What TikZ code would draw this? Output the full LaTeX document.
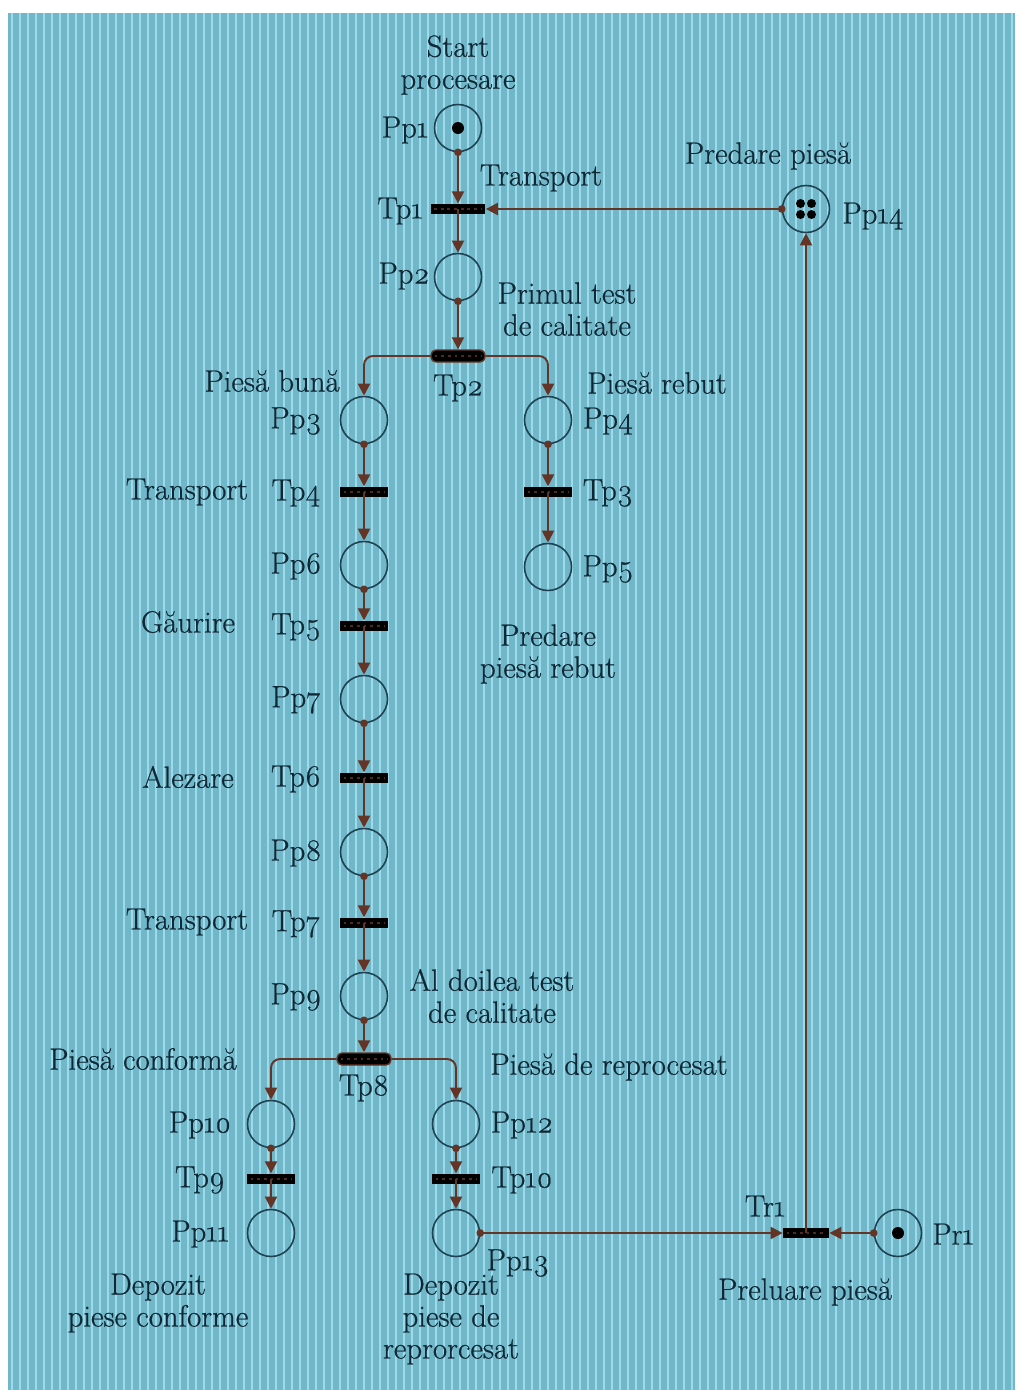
\documentclass[tikz,border=0pt]{standalone}
\usepackage{fontspec}
\setmainfont{Latin Modern Roman}[Numbers=OldStyle, FakeBold=0.6]
\usetikzlibrary{arrows.meta,calc}
\definecolor{bgc}{RGB}{112,184,201}
\definecolor{strc}{RGB}{158,218,232}
\definecolor{arcc}{RGB}{100,52,38}
\definecolor{txtc}{RGB}{16,40,54}
\definecolor{ringc}{RGB}{30,66,82}
\begin{document}
\begin{tikzpicture}[x=0.02cm,y=-0.02cm,
  place/.style={circle, draw=ringc, line width=0.9pt, minimum size=0.94cm, inner sep=0pt},
  trans/.style={rectangle, fill=black, minimum width=#1, minimum height=0.21cm, inner sep=0pt,
    path picture={\draw[arcc!80!black, line width=1.6pt, dash pattern=on 1.6pt off 2.2pt]
      ([xshift=2pt]path picture bounding box.west) -- ([xshift=-2pt]path picture bounding box.east);}},
  trans/.default=0.96cm,
  rtrans/.style={trans=#1, rounded corners=2.8pt, draw=arcc, line width=0.8pt, minimum height=0.24cm},
  pnarc/.style={draw=arcc, line width=1.1pt, rounded corners=0.18cm,
    {Circle[length=1.5mm,width=1.5mm]}-{Triangle[length=2.4mm,width=2.4mm]}, shorten <=-0.75mm},
  plarc/.style={draw=arcc, line width=1.1pt, rounded corners=0.18cm, -{Triangle[length=2.4mm,width=2.4mm]}},
  lbl/.style={text=txtc, font=\fontsize{17.5}{18.2}\selectfont, align=center, inner sep=0pt},
  tok/.style={fill=black}
]
\useasboundingbox (0,0) rectangle (1015,1390);
\fill[white] (0,0) rectangle (1015,1390);
\fill[bgc] (8,13) rectangle (1015,1390);
\foreach \i in {0,...,125} {
  \draw[strc, line width=0.7pt] (12+8*\i,13) -- (12+8*\i,1390);
}

% places
\node[place] (Pp1) at (458,128) {};
\node[place] (Pp2) at (458,277) {};
\node[place] (Pp3) at (364,420) {};
\node[place] (Pp4) at (548,420) {};
\node[place] (Pp5) at (548,567) {};
\node[place] (Pp6) at (364,565) {};
\node[place] (Pp7) at (364,699) {};
\node[place] (Pp8) at (364,852) {};
\node[place] (Pp9) at (364,996) {};
\node[place] (Pp10) at (271,1124) {};
\node[place] (Pp11) at (271,1233) {};
\node[place] (Pp12) at (456,1124) {};
\node[place] (Pp13) at (456,1233) {};
\node[place] (Pp14) at (806,209) {};
\node[place] (Pr1) at (898,1233) {};

% tokens
\fill[tok] (Pp1) circle (0.12cm);
\fill[tok] (Pr1) circle (0.12cm);
\foreach \dx/\dy in {-5.5/-5.5,5.5/-5.5,-5.5/5.5,5.5/5.5}
  \fill[tok] ($(Pp14)+(\dx,\dy)$) circle (0.09cm);

% transitions
\node[trans=1.1cm] (Tp1) at (458,209) {};
\node[rtrans=1.08cm] (Tp2) at (458,356) {};
\node[trans] (Tp3) at (548,492) {};
\node[trans] (Tp4) at (364,492) {};
\node[trans] (Tp5) at (364,626) {};
\node[trans] (Tp6) at (364,778) {};
\node[trans] (Tp7) at (364,923) {};
\node[rtrans=1.08cm] (Tp8) at (364,1059) {};
\node[trans] (Tp9) at (271,1179) {};
\node[trans] (Tp10) at (456,1179) {};
\node[trans=0.92cm] (Tr1) at (806,1233) {};

% arcs
\draw[pnarc] (Pp1.south) -- (Tp1.north);
\draw[plarc] (Tp1.center) -- (Pp2.north);
\draw[pnarc] (Pp14.west) -- (Tp1.east);
\draw[pnarc] (Pp2.south) -- (Tp2.north);
\draw[plarc] (Tp2.west) -| (Pp3.north);
\draw[plarc] (Tp2.east) -| (Pp4.north);
\draw[pnarc] (Pp3.south) -- (Tp4.north);
\draw[plarc] (Tp4.center) -- (Pp6.north);
\draw[pnarc] (Pp4.south) -- (Tp3.north);
\draw[plarc] (Tp3.center) -- (Pp5.north);
\draw[pnarc] (Pp6.south) -- (Tp5.north);
\draw[plarc] (Tp5.center) -- (Pp7.north);
\draw[pnarc] (Pp7.south) -- (Tp6.north);
\draw[plarc] (Tp6.center) -- (Pp8.north);
\draw[pnarc] (Pp8.south) -- (Tp7.north);
\draw[plarc] (Tp7.center) -- (Pp9.north);
\draw[pnarc] (Pp9.south) -- (Tp8.north);
\draw[plarc] (Tp8.west) -| (Pp10.north);
\draw[plarc] (Tp8.east) -| (Pp12.north);
\draw[pnarc] (Pp10.south) -- (Tp9.north);
\draw[plarc] (Tp9.center) -- (Pp11.north);
\draw[pnarc] (Pp12.south) -- (Tp10.north);
\draw[plarc] (Tp10.center) -- (Pp13.north);
\draw[pnarc] (Pp13.east) -- (Tr1.west);
\draw[pnarc] (Pr1.west) -- (Tr1.east);
\draw[plarc] (Tr1.center) -- (Pp14.south);

% labels
\node[lbl] (lStart) at (458,65) {Start\\procesare};
\node[lbl] (lPp1) at (405,130) {Pp1};
\node[lbl] (lTransp1) at (541,178) {Transport};
\node[lbl] (lTp1) at (400,211) {Tp1};
\node[lbl] (lPred) at (768,156) {Predare piesă};
\node[lbl] (lPp14) at (873,216) {Pp14};
\node[lbl] (lPp2) at (404,276) {Pp2};
\node[lbl] (lPrimul) at (567,309) {Primul test\\de calitate};
\node[lbl] (lBuna) at (272,381) {Piesă bună};
\node[lbl] (lTp2) at (458,388) {Tp2};
\node[lbl] (lRebut) at (657,383) {Piesă rebut};
\node[lbl] (lPp3) at (296,421) {Pp3};
\node[lbl] (lPp4) at (608,421) {Pp4};
\node[lbl] (lTransp4) at (187,492) {Transport};
\node[lbl] (lTp4) at (296,493) {Tp4};
\node[lbl] (lTp3) at (608,493) {Tp3};
\node[lbl] (lPp6) at (296,566) {Pp6};
\node[lbl] (lPp5) at (608,569) {Pp5};
\node[lbl] (lGaur) at (188,622) {Găurire};
\node[lbl] (lTp5) at (296,627) {Tp5};
\node[lbl] (lPredReb) at (548,654) {Predare\\piesă rebut};
\node[lbl] (lPp7) at (296,700) {Pp7};
\node[lbl] (lAlez) at (188,777) {Alezare};
\node[lbl] (lTp6) at (296,779) {Tp6};
\node[lbl] (lPp8) at (296,853) {Pp8};
\node[lbl] (lTransp7) at (187,922) {Transport};
\node[lbl] (lTp7) at (296,924) {Tp7};
\node[lbl] (lAlDoilea) at (492,996) {Al doilea test\\de calitate};
\node[lbl] (lPp9) at (296,997) {Pp9};
\node[lbl] (lConf) at (143,1059) {Piesă conformă};
\node[lbl] (lTp8) at (364,1088) {Tp8};
\node[lbl] (lRepr) at (609,1067) {Piesă de reprocesat};
\node[lbl] (lPp10) at (200,1125) {Pp10};
\node[lbl] (lPp12) at (522,1125) {Pp12};
\node[lbl] (lTp9) at (200,1180) {Tp9};
\node[lbl] (lTp10) at (522,1180) {Tp10};
\node[lbl] (lPp11) at (200,1234) {Pp11};
\node[lbl] (lPp13) at (518,1263) {Pp13};
\node[lbl] (lTr1) at (765,1206) {Tr1};
\node[lbl] (lPr1) at (953,1234) {Pr1};
\node[lbl] (lPrel) at (805,1292) {Preluare piesă};
\node[lbl] (lDepC) at (158,1303) {Depozit\\piese conforme};
\node[lbl] (lDepR) at (451,1319) {Depozit\\piese de\\reprorcesat};
\end{tikzpicture}
\end{document}
